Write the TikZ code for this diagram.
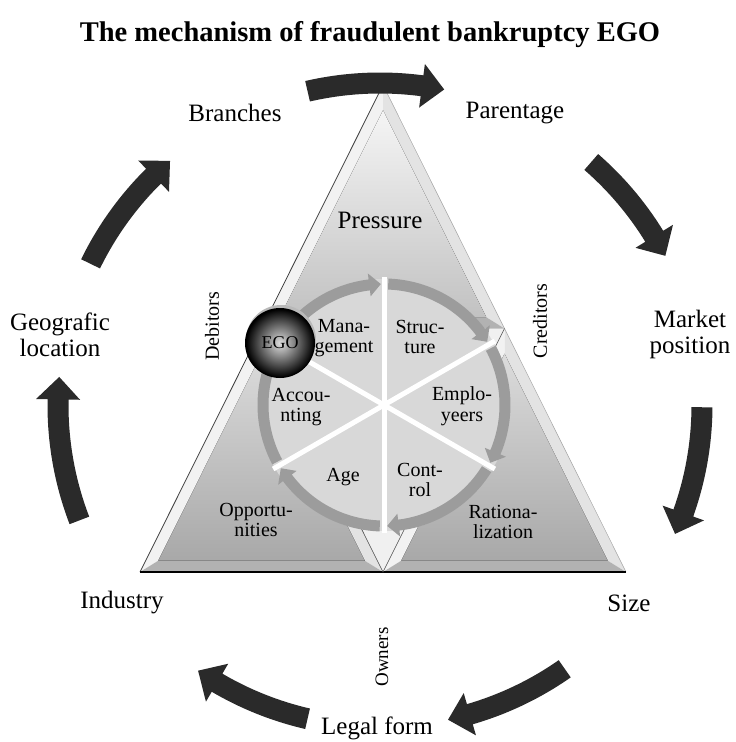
\documentclass[tikz,border=0pt]{standalone}
\usepackage{fontspec}
\setmainfont{Liberation Serif}
\usetikzlibrary{calc}
\definecolor{arrowblack}{HTML}{2A2A2A}
\definecolor{ringgray}{HTML}{9C9C9C}
\definecolor{discgray}{HTML}{D8D8D8}
% curved arrow: #1 centre, #2 radius, #3 half body width, #4 half head width,
% #5 tail angle, #6 tip angle, #7 head length (deg), #8 colour
\newcommand{\arcarrow}[8]{%
  \fill[shift={(#1)}, #8] ({#5}:{#2+#3}) arc[start angle={#5}, end angle={#6+#7}, radius={#2+#3}]
    -- ({#6+#7}:{#2+#4}) -- ({#6}:{#2}) -- ({#6+#7}:{#2-#4}) -- ({#6+#7}:{#2-#3})
    arc[start angle={#6+#7}, end angle={#5}, radius={#2-#3}] -- cycle;}
% bevelled triangle: #1 apex, #2 bottom left, #3 bottom right, #4 incentre, #5/#6 top/bottom colours
\newcommand{\bevelpanel}[6]{%
  \coordinate (pa) at ($(#4)!0.85!(#1)$);
  \coordinate (pb) at ($(#4)!0.85!(#2)$);
  \coordinate (pc) at ($(#4)!0.85!(#3)$);
  \fill[gray!10] (#1) -- (#2) -- (pb) -- (pa) -- cycle;
  \fill[gray!22] (#1) -- (#3) -- (pc) -- (pa) -- cycle;
  \fill[gray!60] (#2) -- (#3) -- (pc) -- (pb) -- cycle;
  \fill[top color=#5, bottom color=#6] (pa) -- (pb) -- (pc) -- cycle;}
\begin{document}
\begin{tikzpicture}[x=1pt,y=1pt,
  outlbl/.style={font=\fontsize{25}{26}\selectfont, align=center, inner sep=0pt},
  inlbl/.style={font=\fontsize{20}{20.5}\selectfont, align=center, inner sep=0pt},
  sidelbl/.style={font=\fontsize{20}{20}\selectfont, rotate=90, inner sep=0pt}]
\useasboundingbox (0,0) rectangle (736,-742);
% key points
\coordinate (A) at (383,-85);
\coordinate (L) at (261.5,-328.5);
\coordinate (R) at (504.5,-328.5);
\coordinate (BL) at (140,-572);
\coordinate (BC) at (383,-572);
\coordinate (BR) at (626,-572);
\coordinate (TI) at (383,-253.3);
\coordinate (LI) at (261.5,-496.8);
\coordinate (RI) at (504.5,-496.8);
\coordinate (oc) at (380,-405);
\coordinate (ic) at (384,-405);
\coordinate (ego) at (280,-343);
% title
\node[font=\fontsize{28.5}{30}\selectfont\bfseries, inner sep=0pt] (title) at (370,-35) {The mechanism of fraudulent bankruptcy EGO};
% triangle panels
\fill[gray!12] (L) -- (R) -- (BC) -- cycle;
\bevelpanel{A}{L}{R}{TI}{gray!8}{gray!48}
\bevelpanel{L}{BL}{BC}{LI}{gray!28}{gray!68}
\bevelpanel{R}{BC}{BR}{RI}{gray!28}{gray!68}
\draw[black!75, line width=0.8] (A) -- (BL);
\draw[gray!70, line width=0.5] (A) -- (BR);
\draw[black, line width=1.4] (BL) -- (BR);
\draw[black!70, line width=0.6] (L) -- (BC) -- (R);
% inner wheel
\fill[discgray] (ic) circle[radius=126];
\foreach \a in {150,90,30,-30,-90,-150}
  \arcarrow{ic}{121}{5.5}{11.5}{\a-2}{\a-58.5}{5.5}{ringgray};
\foreach \a in {90,30,-30,-90,-150,150}
  \draw[white, line width=5] (ic) -- ++(\a:128);
% inner labels
\node[font=\fontsize{25}{26}\selectfont, inner sep=0pt] (pressure) at (380,-220) {Pressure};
\node[inlbl] (mgmt) at (344,-338) {Mana-\\gement};
\node[inlbl] (struct) at (420,-337) {Struc-\\ture};
\node[inlbl] (acc) at (301,-407) {Accou-\\nting};
\node[inlbl] (empl) at (462,-406) {Emplo-\\yeers};
\node[inlbl] (age) at (343,-477) {Age};
\node[inlbl] (ctrl) at (420,-480) {Cont-\\rol};
\node[inlbl] (opp) at (256,-520) {Opportu-\\nities};
\node[inlbl] (rat) at (503,-522) {Rationa-\\lization};
% EGO ball
\fill[gray!55] ($(ego)+(1,3)$) circle[radius=35];
\fill[black] (ego) circle[radius=35];
\shade[inner color=gray!25, outer color=black] (ego) circle[radius=34];
\node[font=\fontsize{18}{18}\selectfont, inner sep=0pt] (egotxt) at (ego) {EGO};
% side labels
\node[sidelbl] (deb) at (212,-326) {Debitors};
\node[sidelbl] (cred) at (540,-321) {Creditors};
\node[sidelbl, font=\fontsize{19}{19}\selectfont] (own) at (382,-657) {Owners};
% outer cycle arrows
\foreach \ta/\tb in {103/78.5, 49/27.6, -0.4/-23.6, -55/-77.8, -103/-124.4, -159/-185, 154/130.7}
  \arcarrow{oc}{322}{10.5}{22}{\ta}{\tb}{4}{arrowblack};
% outer labels
\node[outlbl] (branches) at (235,-113) {Branches};
\node[outlbl] (parent) at (515,-113) {Parentage};
\node[outlbl] (market) at (690,-334) {Market\\position};
\node[outlbl] (size) at (629,-603) {Size};
\node[outlbl] (legal) at (377,-728) {Legal form};
\node[outlbl] (industry) at (122,-603) {Industry};
\node[outlbl] (geo) at (60,-335) {Geografic\\location};
\end{tikzpicture}
\end{document}
